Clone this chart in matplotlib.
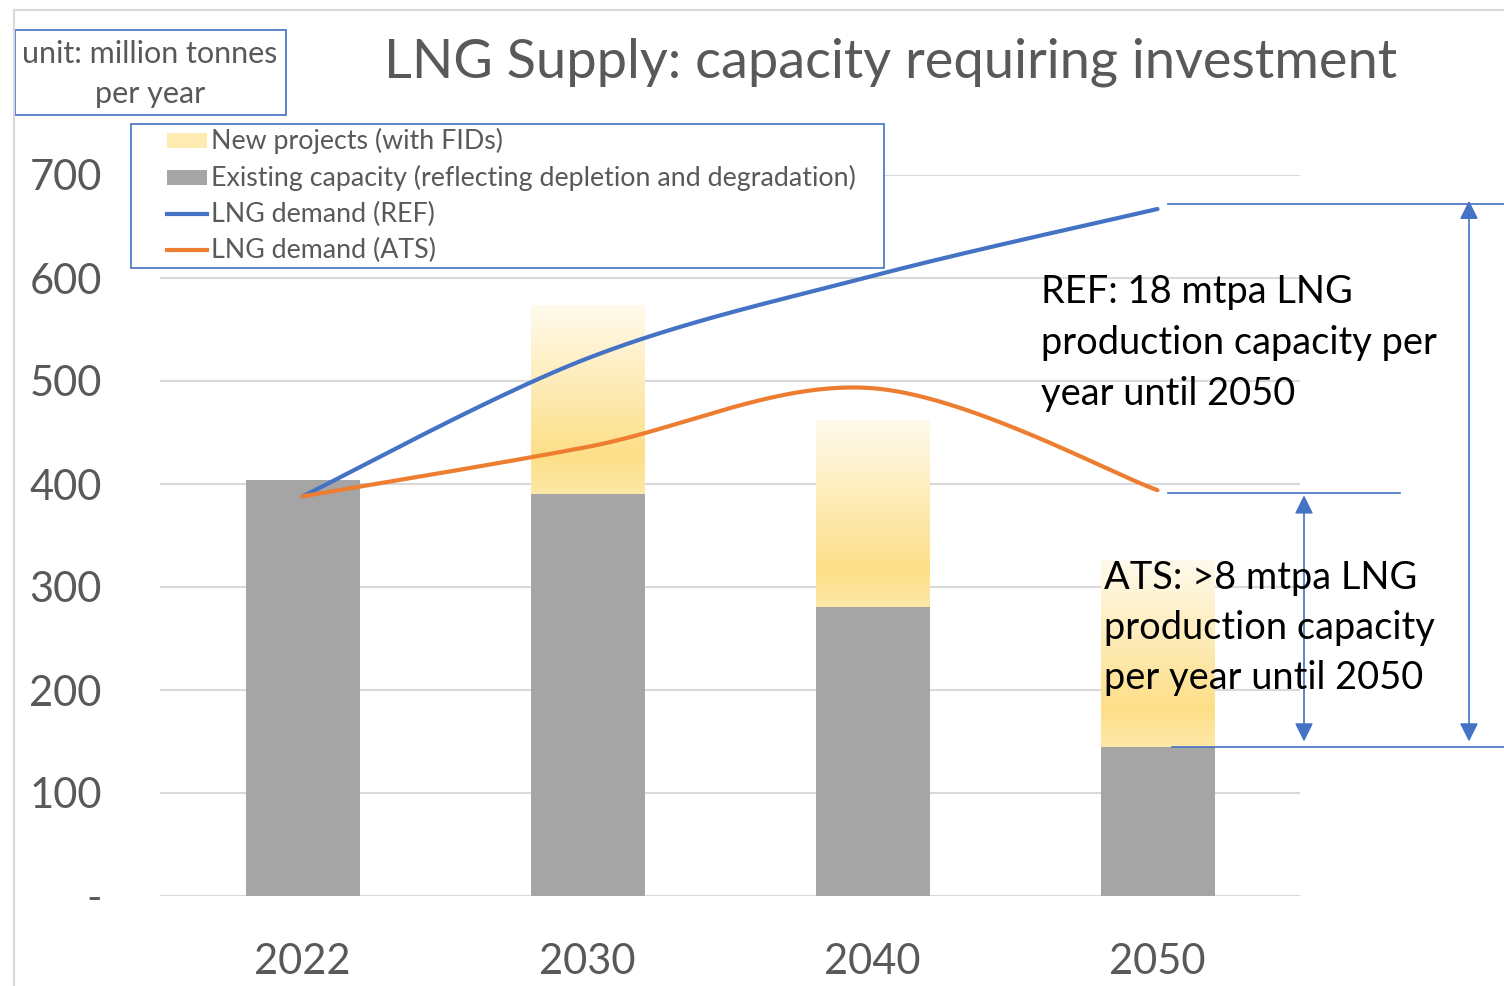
import numpy as np
import matplotlib
matplotlib.use("Agg")
import matplotlib.pyplot as plt
from matplotlib.patches import Rectangle
from matplotlib.lines import Line2D
from matplotlib.colors import LinearSegmentedColormap
import matplotlib.transforms as mtransforms

# ---------------- data ----------------
years = ["2022", "2030", "2040", "2050"]
existing = [404, 390, 281, 145]          # Existing capacity
new_projects = [0, 183, 181, 181]        # New projects (with FIDs)
demand_ref = [388, 522, 602, 667]        # LNG demand (REF)
demand_ats = [388, 436, 493, 394]        # LNG demand (ATS)
y_ticks = [0, 100, 200, 300, 400, 500, 600, 700]
y_tick_labels = ["-", "100", "200", "300", "400", "500", "600", "700"]

legend_labels = ["New projects (with FIDs)",
                 "Existing capacity (reflecting depletion and degradation)",
                 "LNG demand (REF)",
                 "LNG demand (ATS)"]
title = "LNG Supply: capacity requiring investment"
unit_text = "unit: million tonnes\nper year"
ref_note = "REF: 18 mtpa LNG\nproduction capacity per\nyear until 2050"
ats_note = "ATS: >8 mtpa LNG\nproduction capacity\nper year until 2050"

FONT = "Lato"
GREY_TXT = "#595959"
BLUE = "#4472C4"
ORANGE = "#ED7D31"
BAR_GREY = "#A5A5A5"
LEG_YELLOW = "#FEEBB2"

W, H = 1504, 986
fig = plt.figure(figsize=(W / 100, H / 100), dpi=100)
fig.patch.set_facecolor("white")


def fx(px):
    return px / W


def fy(py):
    return 1 - py / H


ax = fig.add_axes([fx(160), fy(896), (1300 - 160) / W, (896 - 175) / H])
x = np.arange(len(years))


def smooth(xs, ys, n=80):
    P = np.column_stack([xs, ys]).astype(float)
    P = np.vstack([P[0], P, P[-1]])
    out = []
    t = np.linspace(0, 1, n)[:, None]
    for i in range(1, len(P) - 2):
        p0, p1, p2, p3 = P[i - 1], P[i], P[i + 1], P[i + 2]
        c1 = p1 + (p2 - p0) / 6
        c2 = p2 - (p3 - p1) / 6
        seg = (1 - t) ** 3 * p1 + 3 * (1 - t) ** 2 * t * c1 + 3 * (1 - t) * t ** 2 * c2 + t ** 3 * p2
        out.append(seg if i == 1 else seg[1:])
    return np.vstack(out)


# grid
ax.set_axisbelow(True)
for v in y_ticks:
    ax.axhline(v, color="#D9D9D9", lw=1.5, zorder=0)

# bars
bw = 0.40
ax.bar(x, existing, width=bw, color=BAR_GREY, linewidth=0, zorder=2)
bars_new = ax.bar(x, new_projects, bottom=existing, width=bw, color="none", linewidth=0, zorder=2)
cmap = LinearSegmentedColormap.from_list(
    "gold", [(0.0, "#FEE8A8"), (0.2, "#FDDF88"), (1.0, "#FFFAEC")])
grad = np.linspace(0, 1, 256)[:, None]
for b in bars_new:
    if b.get_height() <= 0:
        continue
    x0, y0, w, h = b.get_x(), b.get_y(), b.get_width(), b.get_height()
    ax.imshow(grad, extent=[x0, x0 + w, y0, y0 + h], origin="lower", cmap=cmap,
              aspect="auto", zorder=2, interpolation="bilinear")

# lines
sr = smooth(x, demand_ref)
sa = smooth(x, demand_ats)
ax.plot(sr[:, 0], sr[:, 1], color=BLUE, lw=3, zorder=3, solid_capstyle="round")
ax.plot(sa[:, 0], sa[:, 1], color=ORANGE, lw=3, zorder=3, solid_capstyle="round")

ax.set_xlim(-0.5, len(years) - 0.5)
ax.set_ylim(0, 700)
ax.set_xticks(x)
ax.set_xticklabels(years)
ax.set_yticks(y_ticks)
ax.set_yticklabels(y_tick_labels)
for s in ax.spines.values():
    s.set_visible(False)
ax.tick_params(axis="both", length=0, colors=GREY_TXT, labelsize=30)
ax.tick_params(axis="y", pad=42)
ax.tick_params(axis="x", pad=34)
for lab in ax.get_xticklabels() + ax.get_yticklabels():
    lab.set_fontfamily(FONT)

# title
fig.text(fx(891), fy(62), title, ha="center", va="center", fontsize=39,
         color=GREY_TXT, family=FONT)

# chart border lines
fig.add_artist(Line2D([fx(14), 1], [fy(10), fy(10)], transform=fig.transFigure,
                      color="#D9D9D9", lw=1.5))
fig.add_artist(Line2D([fx(14), fx(14)], [fy(10), 0], transform=fig.transFigure,
                      color="#D9D9D9", lw=1.5))

# unit box
fig.add_artist(Rectangle((fx(15), fy(115)), fx(286) - fx(15), fy(30) - fy(115),
                         transform=fig.transFigure, facecolor="white",
                         edgecolor=BLUE, lw=1.2))
fig.text(fx(150), fy(74), unit_text, ha="center", va="center", fontsize=22,
         color=GREY_TXT, family=FONT, linespacing=1.5)

# legend (drawn manually for exact placement)
fig.add_artist(Rectangle((fx(131), fy(268)), fx(884) - fx(131), fy(124) - fy(268),
                         transform=fig.transFigure, facecolor="white",
                         edgecolor=BLUE, lw=1.2, zorder=5))
rows_y = [141, 178, 214, 250]
fig.add_artist(Rectangle((fx(167), fy(rows_y[0] + 7)), fx(207) - fx(167), fy(0) - fy(15),
                         transform=fig.transFigure, facecolor=LEG_YELLOW,
                         edgecolor="none", zorder=6))
fig.add_artist(Rectangle((fx(167), fy(rows_y[1] + 7)), fx(207) - fx(167), fy(0) - fy(15),
                         transform=fig.transFigure, facecolor=BAR_GREY,
                         edgecolor="none", zorder=6))
fig.add_artist(Line2D([fx(167), fx(207)], [fy(rows_y[2])] * 2, transform=fig.transFigure,
                      color=BLUE, lw=3, zorder=6))
fig.add_artist(Line2D([fx(167), fx(207)], [fy(rows_y[3])] * 2, transform=fig.transFigure,
                      color=ORANGE, lw=3, zorder=6))
for ry, lab in zip(rows_y, legend_labels):
    fig.text(fx(211), fy(ry), lab, ha="left", va="center", fontsize=19.3,
             color=GREY_TXT, family=FONT, zorder=7)

# annotations (guides and arrows)
trans = mtransforms.blended_transform_factory(fig.transFigure, ax.transData)
ax.plot([fx(1168), 1.0], [demand_ref[-1] + 5] * 2, transform=trans, clip_on=False,
        color=BLUE, lw=1.2, zorder=4)
ax.plot([fx(1168), fx(1400)], [demand_ats[-1] - 3] * 2, transform=trans, clip_on=False,
        color=BLUE, lw=1.2, zorder=4)
ax.plot([fx(1172), 1.0], [existing[-1]] * 2, transform=trans, clip_on=False,
        color=BLUE, lw=1.2, zorder=4)
arrow_kw = dict(arrowstyle="<|-|>", color=BLUE, lw=1.2, mutation_scale=28,
                shrinkA=0, shrinkB=0)
ax.annotate("", xy=(fx(1469), existing[-1] + 5), xytext=(fx(1469), demand_ref[-1] + 8),
            xycoords=trans, textcoords=trans, arrowprops=arrow_kw, annotation_clip=False)
ax.annotate("", xy=(fx(1304), existing[-1] + 5), xytext=(fx(1304), demand_ats[-1] - 5),
            xycoords=trans, textcoords=trans, arrowprops=arrow_kw, annotation_clip=False)

fig.text(fx(1041), fy(343), ref_note, ha="left", va="center", fontsize=27.4,
         color="black", family=FONT, linespacing=1.5, zorder=6)
fig.text(fx(1104), fy(628), ats_note, ha="left", va="center", fontsize=27.4,
         color="black", family=FONT, linespacing=1.5, zorder=6)

fig.savefig("out.png", dpi=100, facecolor="white")
